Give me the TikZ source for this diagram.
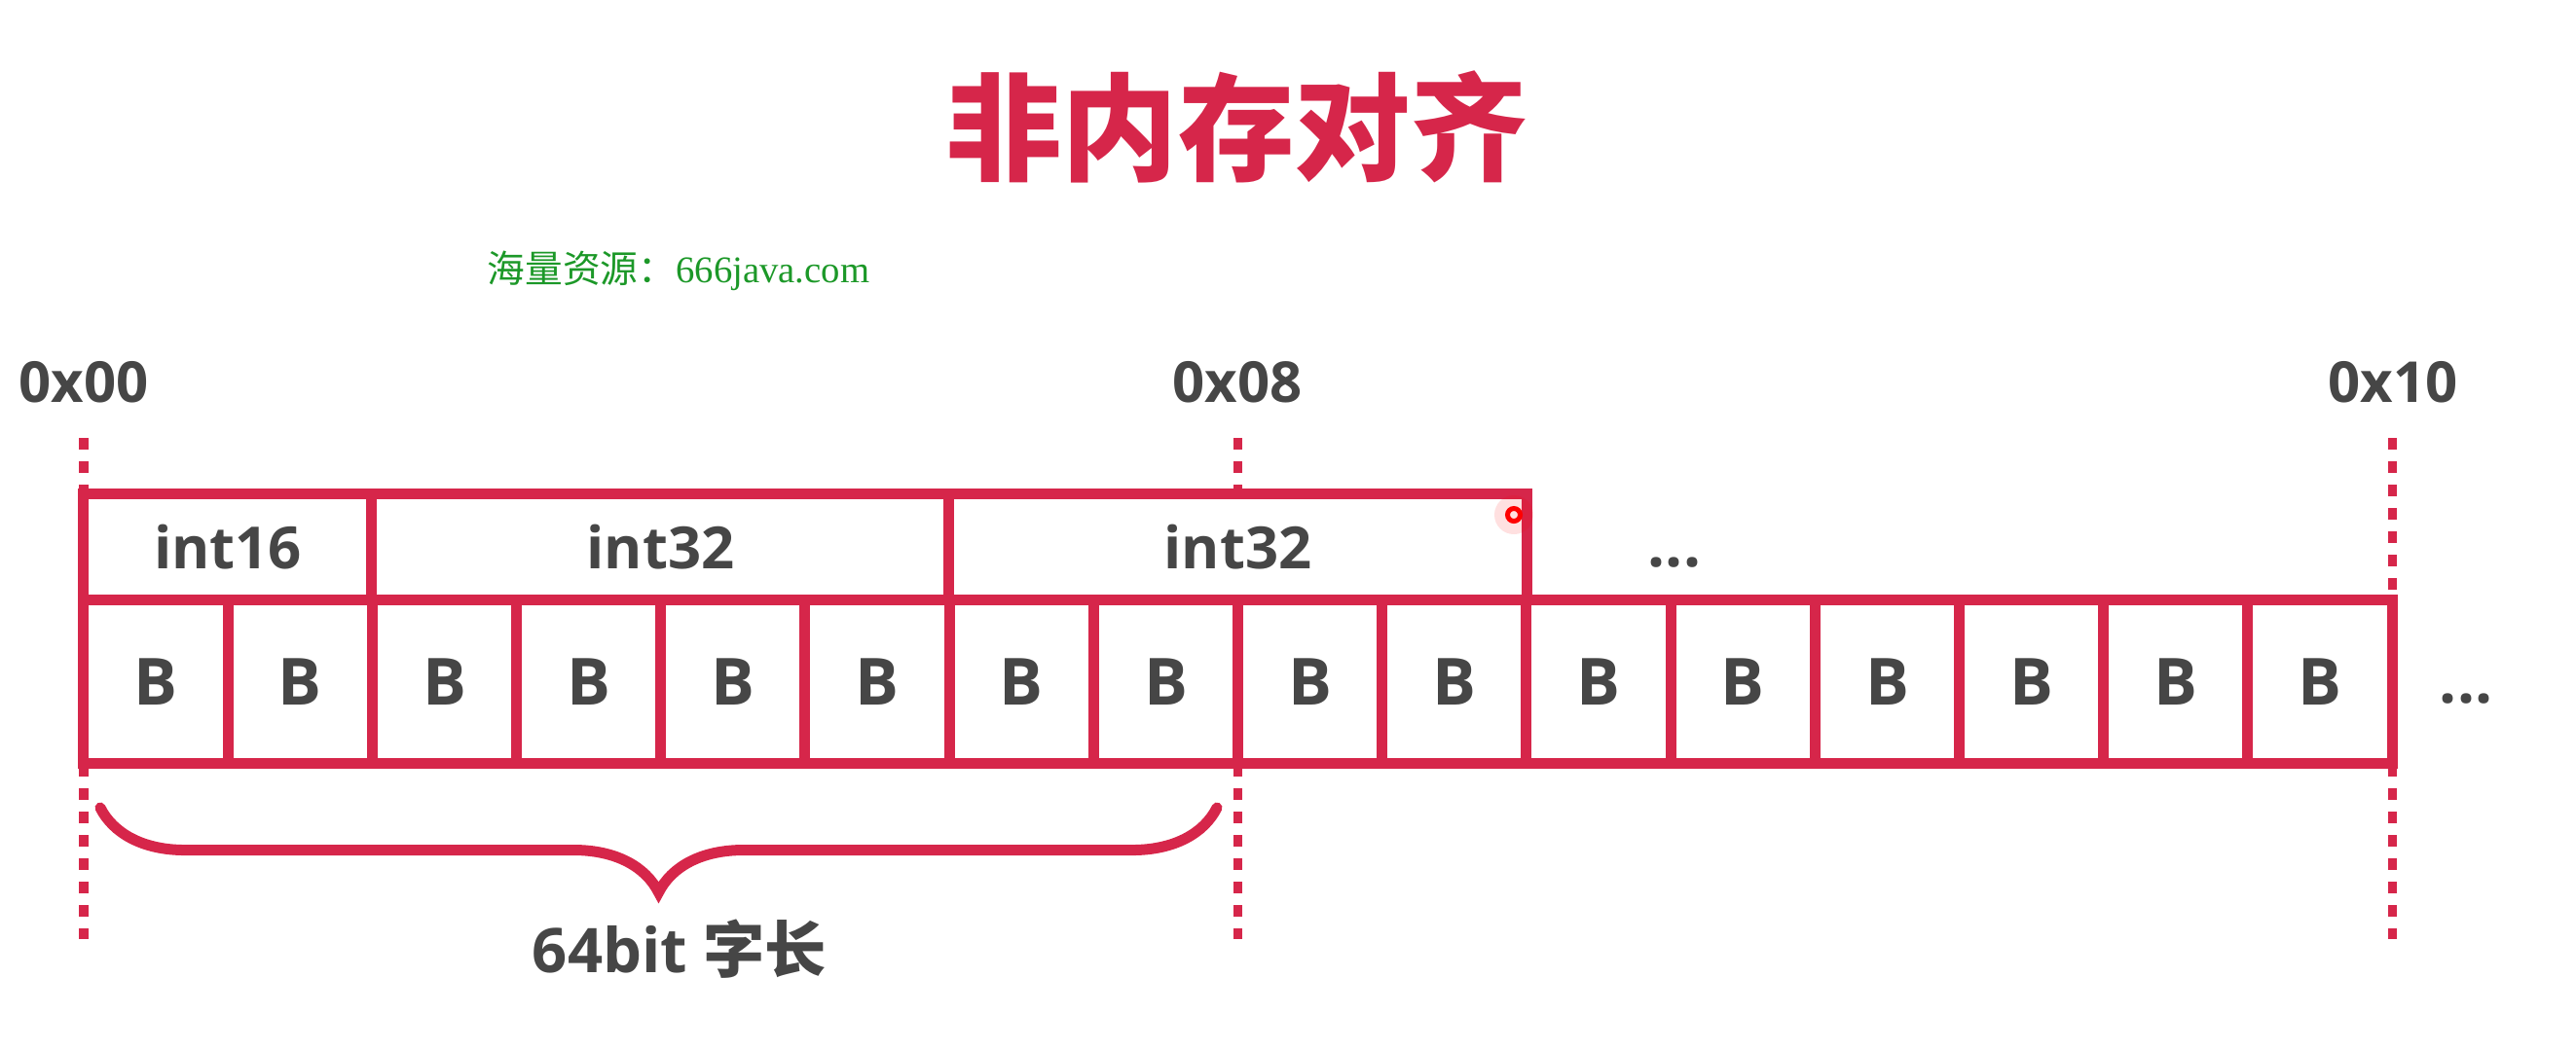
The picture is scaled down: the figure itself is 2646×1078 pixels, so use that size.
\documentclass[tikz,border=0pt]{standalone}
\usepackage{fontspec}
\setmainfont{Open Sans}
\newfontfamily\cjk{Noto Sans CJK SC}
\newfontfamily\wmserif{Liberation Serif}
\usetikzlibrary{decorations.pathreplacing}

\definecolor{memred}{RGB}{214,38,74}
\definecolor{txtgray}{RGB}{70,70,70}
\definecolor{wmgreen}{RGB}{28,152,40}

\tikzset{
    byte/.style={draw=memred, line width=0.11cm, fill=white, minimum width=1.482cm,
        minimum height=1.67cm, inner sep=0pt, text=txtgray, font=\fontsize{19}{22}\selectfont\bfseries},
    field/.style={draw=memred, line width=0.11cm, fill=white, minimum height=1.09cm,
        inner sep=0pt, text=txtgray, font=\fontsize{17}{20}\selectfont\bfseries},
    addr/.style={text=txtgray, inner sep=0pt, font=\fontsize{16.5}{20}\selectfont\bfseries},
    guide/.style={memred, line width=0.09cm, dash pattern=on 0.12cm off 0.12cm},
}

\begin{document}
\begin{tikzpicture}[x=0.01cm, y=-0.01cm]
    \useasboundingbox (0,0) rectangle (2646,1078);

    % title and watermark
    \node[text=memred, font=\fontsize{34}{40}\selectfont\cjk\bfseries] (title) at (1270,130) {非内存对齐};
    \node[text=wmgreen, font=\fontsize{11}{13}\selectfont] (wm) at (697,278) {{\cjk 海量资源：}{\wmserif 666java.com}};

    % addresses
    \node[addr] (a0) at (86,393) {0x00};
    \node[addr] (a8) at (1271,393) {0x08};
    \node[addr] (a16) at (2458,393) {0x10};

    % dashed guides
    \foreach \n/\x in {0/86, 8/1271, 16/2457}{
        \coordinate (gt\n) at (\x,450);
        \coordinate (gb\n) at (\x,965);
        \draw[guide] (gt\n) -- (gb\n);
    }

    % fields
    \node[field, minimum width=2.964cm] (f1) at (234,562.5) {int16};
    \node[field, minimum width=5.928cm] (f2) at (678.5,562.5) {int32};
    \node[field, minimum width=5.928cm] (f3) at (1271.5,562.5) {int32};
    \node[text=txtgray, font=\fontsize{18}{20}\selectfont\bfseries] (dots1) at (1720,578) {...};

    % bytes
    \foreach \i in {1,...,16}{
        \node[byte] (b\i) at ({86+148.2*(\i-0.5)},700.5) {B};
    }
    \node[text=txtgray, font=\fontsize{18}{20}\selectfont\bfseries] (dots2) at (2533,718) {...};

    % pointer
    \fill[red, opacity=0.12] (1555,529) circle (0.2cm);
    \draw[red, line width=0.05cm] (1555,529) circle (0.065cm);

    % word length brace
    \coordinate (br1) at (103,830);
    \coordinate (br2) at (1250,830);
    \draw[memred, line width=0.11cm, line cap=round, decorate,
        decoration={brace, mirror, amplitude=0.87cm}] (br1) -- (br2);
    \node[text=txtgray, font=\fontsize{18}{22}\selectfont\bfseries] (word) at (698,975) {64bit {\cjk 字长}};
\end{tikzpicture}
\end{document}
